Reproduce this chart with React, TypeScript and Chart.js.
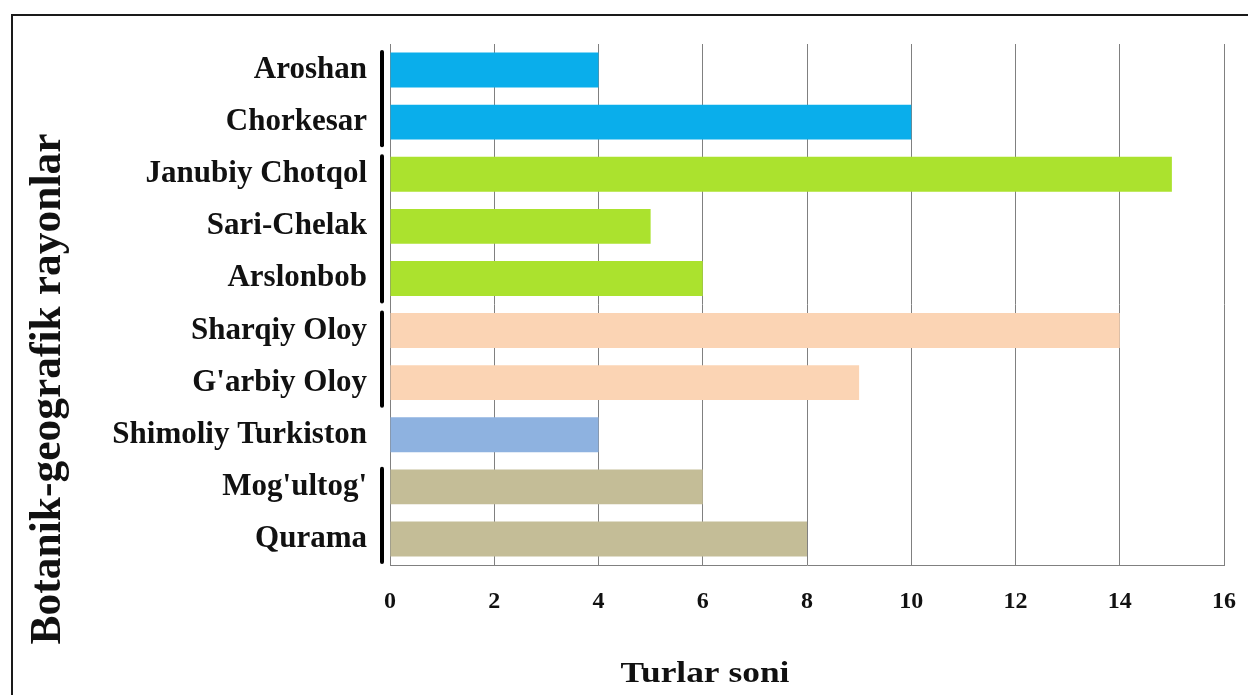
import React, { useEffect, useRef } from "react";
import { Chart, registerables } from "chart.js";

Chart.register(...registerables);

const categories = [
  "Aroshan",
  "Chorkesar",
  "Janubiy Chotqol",
  "Sari-Chelak",
  "Arslonbob",
  "Sharqiy Oloy",
  "G'arbiy Oloy",
  "Shimoliy Turkiston",
  "Mog'ultog'",
  "Qurama",
];
const speciesCounts = [4, 10, 15, 5, 6, 14, 9, 4, 6, 8];
const barColors = [
  "#0AAEEB",
  "#0AAEEB",
  "#ABE22E",
  "#ABE22E",
  "#ABE22E",
  "#FBD4B4",
  "#FBD4B4",
  "#8EB2E0",
  "#C4BD97",
  "#C4BD97",
];
const groups: [number, number][] = [
  [0, 1],
  [2, 4],
  [5, 6],
  [8, 9],
];
const xTicks = [0, 2, 4, 6, 8, 10, 12, 14, 16];
const xTitle = "Turlar soni";
const yTitle = "Botanik-geografik rayonlar";

const FONT = "'Liberation Serif', 'Times New Roman', serif";

export default function App() {
  const ref = useRef<HTMLCanvasElement | null>(null);

  useEffect(() => {
    document.body.style.margin = "0";
    const canvas = ref.current;
    if (!canvas) return;

    const decor = {
      id: "decor",
      beforeDraw(chart: any) {
        const ctx = chart.ctx;
        ctx.save();
        ctx.fillStyle = "#ffffff";
        ctx.fillRect(0, 0, chart.width, chart.height);
        ctx.strokeStyle = "#1a1a1a";
        ctx.lineWidth = 2;
        ctx.beginPath();
        ctx.moveTo(12, chart.height);
        ctx.lineTo(12, 15);
        ctx.lineTo(chart.width, 15);
        ctx.stroke();
        ctx.restore();
      },
      afterDraw(chart: any) {
        const ctx = chart.ctx;
        const y = chart.scales.y;
        const area = chart.chartArea;
        ctx.save();
        // group brackets
        ctx.strokeStyle = "#000000";
        ctx.lineWidth = 4;
        ctx.lineCap = "round";
        const slot = y.getPixelForValue(1) - y.getPixelForValue(0);
        groups.forEach(([a, b]) => {
          const top = y.getPixelForValue(a) - slot / 2 + 8;
          const bot = y.getPixelForValue(b) + slot / 2 - 3;
          ctx.beginPath();
          ctx.moveTo(area.left - 8, top);
          ctx.lineTo(area.left - 8, bot);
          ctx.stroke();
        });
        // x title
        ctx.fillStyle = "#111111";
        ctx.textAlign = "center";
        ctx.textBaseline = "middle";
        ctx.save();
        ctx.translate(705, 675);
        ctx.scale(1.22, 1);
        ctx.font = `bold 29px ${FONT}`;
        ctx.fillText(xTitle, 0, 0);
        ctx.restore();
        // y title
        ctx.translate(49, 389);
        ctx.rotate(-Math.PI / 2);
        ctx.font = `bold 43.5px ${FONT}`;
        ctx.fillText(yTitle, 0, 0);
        ctx.restore();
      },
    };

    const chart = new Chart(canvas, {
      type: "bar",
      data: {
        labels: categories,
        datasets: [
          {
            data: speciesCounts,
            backgroundColor: barColors,
            borderWidth: 0,
            categoryPercentage: 1,
            barPercentage: 0.67,
          },
        ],
      },
      options: {
        indexAxis: "y",
        animation: false,
        responsive: false,
        maintainAspectRatio: false,
        layout: { padding: { top: 44, right: 24, left: 0, bottom: 0 } },
        plugins: {
          legend: { display: false },
          tooltip: { enabled: false },
          title: { display: false },
        },
        scales: {
          x: {
            min: 0,
            max: 16,
            afterBuildTicks: (s: any) => {
              s.ticks = xTicks.map((v) => ({ value: v }));
            },
            grid: {
              display: true,
              color: "#808080",
              lineWidth: 1,
              drawTicks: false,
            },
            border: { display: true, color: "#808080", width: 1 },
            ticks: {
              padding: 22,
              color: "#111111",
              font: { family: FONT, size: 24, weight: "bold" },
              maxRotation: 0,
            },
            afterFit: (s: any) => {
              s.height = 130;
              s.paddingRight = 0;
              s.paddingLeft = 0;
            },
          },
          y: {
            grid: { display: false, drawTicks: false },
            border: { display: true, color: "#808080", width: 1 },
            ticks: {
              padding: 23,
              color: "#111111",
              font: { family: FONT, size: 31, weight: "bold" },
            },
            afterFit: (s: any) => {
              s.width = 390;
              s.paddingTop = 0;
              s.paddingBottom = 0;
            },
          },
        },
      },
      plugins: [decor],
    });

    return () => chart.destroy();
  }, []);

  return (
    <div style={{ position: "absolute", left: 0, top: 0, width: 1248, height: 695 }}>
      <canvas ref={ref} width={1248} height={695} style={{ display: "block" }} />
    </div>
  );
}
